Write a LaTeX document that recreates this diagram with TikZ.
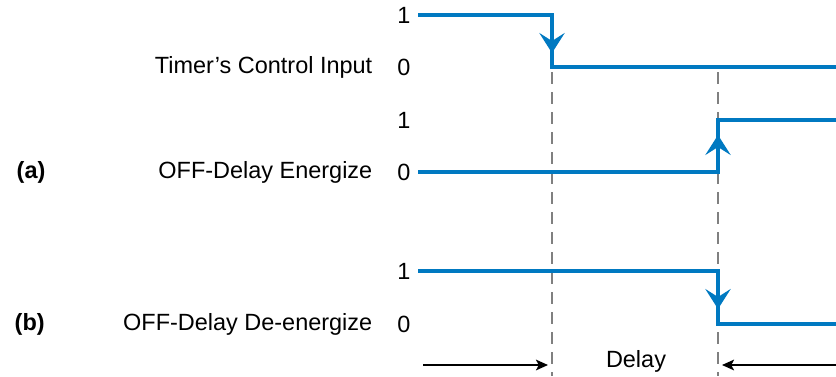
\documentclass[tikz,border=0pt]{standalone}
\usepackage{fontspec}
\setmainfont{Liberation Sans}
\usetikzlibrary{arrows.meta,positioning}
\definecolor{sigblue}{HTML}{0079C1}
\definecolor{gridgrey}{HTML}{808080}
\tikzset{
  sig/.style={line width=3pt, sigblue, line join=miter},
  sigedge/.style={line width=3pt, sigblue, -{Stealth[length=15pt, width=19pt, inset=6pt]}},
  guide/.style={gridgrey, line width=2.1pt, dash pattern=on 9pt off 6pt},
  delayspan/.style={line width=1.1pt, -{Stealth[length=9pt, width=8pt, inset=2pt]}},
  lvl/.style={font=\fontsize{17.6}{20}\selectfont, anchor=center},
  signame/.style={font=\fontsize{17.6}{20}\selectfont, anchor=east},
  parttag/.style={font=\bfseries\fontsize{17.6}{20}\selectfont, anchor=west},
}

\begin{document}
\begin{tikzpicture}[x=0.75pt, y=-0.75pt]
    \useasboundingbox (0,0) rectangle (836,376);

    % level labels
    \node[lvl] (one1) at (404,15) {1};
    \node[lvl] (zero1) at (404,67) {0};
    \node[lvl] (one2) at (404,120) {1};
    \node[lvl] (zero2) at (404,172) {0};
    \node[lvl] (one3) at (404,271) {1};
    \node[lvl] (zero3) at (404,324) {0};

    \node[signame] (ctl) at (377,67) {Timer’s Control Input};
    \node[signame] (ener) at (377,172) {OFF-Delay Energize};
    \node[signame] (deen) at (377,324) {OFF-Delay De-energize};
    \node[parttag] (pa) at (12,172) {(a)};
    \node[parttag] (pb) at (10,324) {(b)};

    % timing guides
    \draw[guide] (552,72) -- (552,376);
    \draw[guide] (718,72) -- (718,376);

    % waveforms
    \draw[sig] (418,15) -- (552,15) -- (552,67) -- (836,67);
    \draw[sigedge] (552,15) -- (552,53);
    \draw[sig] (418,172) -- (718,172) -- (718,120) -- (836,120);
    \draw[sigedge] (718,172) -- (718,135);
    \draw[sig] (418,271) -- (718,271) -- (718,324) -- (836,324);
    \draw[sigedge] (718,271) -- (718,309);

    % delay span
    \node[lvl] (dly) at (636,361) {Delay};
    \coordinate (lft) at (423,365);
    \coordinate (rgt) at (836,365);
    \draw[delayspan] (lft) -- (548,365);
    \draw[delayspan] (rgt) -- (722,365);
\end{tikzpicture}
\end{document}
